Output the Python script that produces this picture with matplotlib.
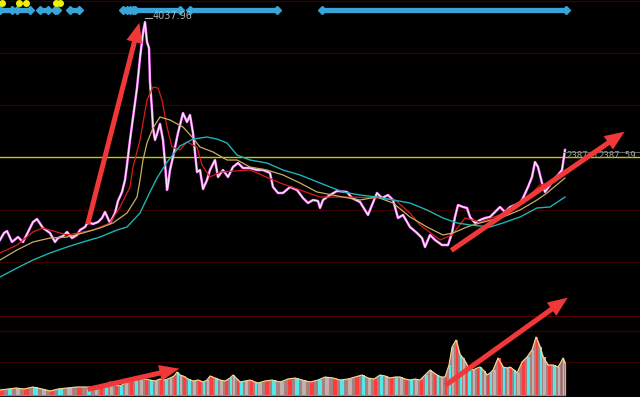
import matplotlib
matplotlib.use('Agg')
import matplotlib.pyplot as plt
import numpy as np

# weekly closes (bar index, index level)
close_x = [0, 4, 7, 12, 18, 23, 28, 33, 37, 43, 50, 55, 58, 63, 67, 72, 77, 80, 85, 88,
           93, 98, 102, 105, 110, 115, 118, 122, 125, 127, 130, 133, 137, 140, 143, 145, 147, 149, 150, 152,
           153, 155, 157, 160, 163, 165, 167, 168, 170, 173, 178, 183, 187, 190, 193, 197, 200, 203, 207, 210,
           215, 218, 223, 228, 233, 238, 243, 250, 257, 263, 270, 273, 278, 283, 290, 297, 303, 308, 313, 318,
           320, 323, 330, 337, 347, 352, 360, 368, 372, 377, 382, 388, 393, 398, 403, 410, 417, 422, 425, 430,
           435, 442, 448, 452, 455, 458, 463, 467, 470, 475, 480, 485, 490, 495, 500, 505, 510, 515, 520, 523,
           528, 532, 535, 538, 542, 545, 550, 555, 558, 562, 565]
close = [1402, 1485, 1508, 1378, 1437, 1378, 1497, 1615, 1651, 1544, 1485, 1378, 1425, 1449, 1497, 1425, 1461, 1520, 1556, 1615,
         1592, 1615, 1663, 1734, 1604, 1722, 1865, 1972, 2114, 2293, 2590, 2851, 3207, 3564, 3861, 3990, 3754, 3683, 3279, 2946,
         2732, 2590, 2661, 2780, 2590, 2316, 1996, 2055, 2233, 2388, 2673, 2910, 2803, 2887, 2673, 2209, 2233, 2007, 2114, 2233,
         2352, 2150, 2233, 2150, 2269, 2316, 2257, 2257, 2233, 2233, 2198, 2031, 1960, 1960, 2031, 1996, 1900, 1841, 1877, 1865,
         1782, 1877, 1936, 1984, 1972, 1900, 1853, 1699, 1817, 1960, 1900, 1936, 1877, 1663, 1699, 1556, 1485, 1425, 1318, 1461,
         1402, 1342, 1342, 1485, 1675, 1817, 1794, 1782, 1675, 1604, 1639, 1663, 1675, 1734, 1794, 1734, 1794, 1817, 1841, 1900,
         2031, 2150, 2328, 2269, 2079, 1972, 2055, 2138, 2174, 2233, 2471]

ma_red_x = [0, 17, 33, 43, 67, 93, 110, 120, 130, 133, 140, 147, 153, 158, 162, 167, 172, 180, 187, 197,
            202, 210, 220, 250, 280, 300, 320, 350, 380, 395, 410, 420, 440, 452, 465, 480, 500, 520, 540, 555, 565]
ma_red = [1247, 1342, 1497, 1544, 1461, 1520, 1604, 1794, 2031, 2269, 2590, 3065, 3219, 3207, 3065, 2744, 2506, 2471, 2566, 2506,
          2293, 2150, 2209, 2233, 2079, 1996, 1912, 1912, 1900, 1877, 1722, 1580, 1402, 1461, 1663, 1615, 1699, 1817, 2055, 2091, 2233]

ma_yel_x = [0, 17, 33, 50, 67, 83, 100, 113, 127, 137, 140, 143, 147, 153, 160, 170, 183, 193, 200, 213,
            227, 237, 250, 267, 283, 300, 317, 343, 360, 377, 393, 410, 427, 443, 453, 467, 480, 503, 520, 537, 547, 565]
ma_yel = [1164, 1283, 1378, 1425, 1437, 1485, 1544, 1604, 1722, 1912, 2114, 2352, 2554, 2732, 2863, 2827, 2744, 2613, 2506, 2447,
          2352, 2352, 2269, 2233, 2174, 2079, 1972, 1912, 1877, 1912, 1841, 1675, 1556, 1461, 1485, 1556, 1604, 1675, 1758, 1877, 1960, 2138]

ma_cyan_x = [0, 17, 33, 50, 67, 83, 100, 117, 127, 140, 150, 157, 167, 180, 193, 207, 217, 227, 237, 250,
             267, 283, 300, 320, 343, 360, 377, 393, 410, 427, 443, 457, 470, 490, 503, 520, 537, 550, 565]
ma_cyan = [962, 1069, 1164, 1247, 1318, 1378, 1437, 1520, 1556, 1722, 1972, 2138, 2328, 2518, 2601, 2625, 2601, 2554, 2411, 2352,
           2316, 2233, 2174, 2079, 1972, 1936, 1912, 1877, 1841, 1758, 1663, 1604, 1580, 1556, 1604, 1675, 1782, 1794, 1912]

vol_x = [0, 8, 16, 24, 33, 42, 50, 58, 67, 77, 87, 95, 100, 105, 110, 115, 120, 125, 130, 135,
         140, 145, 150, 155, 160, 165, 170, 174, 177, 180, 183, 188, 193, 198, 203, 207, 210, 215, 220, 225,
         230, 233, 237, 240, 245, 250, 255, 258, 265, 272, 280, 288, 295, 302, 310, 318, 325, 333, 340, 348,
         355, 362, 368, 374, 380, 385, 390, 395, 400, 405, 410, 415, 420, 425, 430, 434, 437, 441, 445, 449,
         452, 456, 460, 463, 466, 468, 473, 477, 480, 484, 487, 490, 493, 498, 503, 507, 510, 514, 517, 522,
         527, 532, 536, 540, 543, 548, 553, 558, 561, 563, 565]
vol = [5, 6, 7, 6, 8, 6, 4, 6, 7, 8, 8, 8, 9, 10, 13, 10, 9, 12, 15, 14,
       17, 16, 15, 14, 16, 15, 17, 19, 23, 20, 19, 16, 14, 15, 13, 15, 19, 17, 15, 14,
       17, 20, 16, 13, 14, 15, 13, 12, 14, 15, 13, 16, 17, 15, 13, 15, 18, 17, 15, 16,
       18, 20, 17, 16, 20, 19, 17, 18, 18, 16, 15, 16, 15, 20, 25, 22, 20, 18, 18, 30,
       48, 55, 40, 37, 32, 28, 25, 27, 28, 24, 20, 22, 25, 37, 28, 27, 28, 25, 22, 33,
       38, 45, 58, 48, 38, 30, 30, 28, 33, 37, 32]

peak_x = 145
peak_value = 4037.96
last_value = 2387.59
last_label = '2387.1'

blue_signals = [(0, 12), (17, 30), (40, 48), (55, 57), (70, 79), (123, 127), (130, 133),
                (135, 180), (190, 277), (322, 566)]
yellow_signals = [2, 19, 26, 56, 60]


fig = plt.figure(figsize=(6.4, 3.97), dpi=100, facecolor='black')
ax = fig.add_axes([0, 81/397, 1, 316/397])
axv = fig.add_axes([0, 0, 1, 81/397])
for a in (ax, axv):
    a.set_facecolor('black')
    a.set_xlim(0, 640)
    a.set_xticks([])
    a.set_yticks([])
    for s in a.spines.values():
        s.set_visible(False)

ax.set_ylim(498.7, 4252.8)
axv.set_ylim(-2, 79)

# grid
for lvl in [1140, 1758, 3005, 3623, 4240]:
    ax.axhline(lvl, color='#3a0000', lw=0.9, zorder=0)
ax.axhline(last_value, color='#c8c800', lw=1.0, zorder=1)
axv.axhline(79, color='#6a0000', lw=1.2, zorder=0)
for lvl in [64, 33]:
    axv.axhline(lvl, color='#3a0000', lw=0.9, zorder=0)

# price
ax.plot(close_x, close, color='#ff70ff', lw=1.8)
ax.plot(close_x, close, color='#f8f0f8', lw=0.8)
ax.plot(ma_red_x, ma_red, color='#d81c1c', lw=0.9)
ax.plot(ma_yel_x, ma_yel, color='#c8b060', lw=0.9)
ax.plot(ma_cyan_x, ma_cyan, color='#1cb4b4', lw=1.0)

ax.plot([peak_x, peak_x + 7], [peak_value, peak_value], color='#b0b0b0', lw=0.8)
ax.text(peak_x + 8, peak_value + 20, '%.2f' % peak_value, color='#b0b0b0', fontsize=7, va='center')
ax.plot([563, 640], [last_value + 60, last_value + 60], color='#606060', lw=0.8)
ax.text(566, last_value + 15, last_label, color='#a0a0a0', fontsize=6.5, va='center', family='DejaVu Sans Mono')
ax.text(598, last_value + 15, '%.2f' % last_value, color='#a0a0a0', fontsize=6.5, va='center', family='DejaVu Sans Mono')

# signals along the top
tr = ax.get_xaxis_transform()
for s, e in blue_signals:
    ax.plot([s, e], [0.968, 0.968], color='#38a4d8', lw=3.8, transform=tr, solid_capstyle='round')
    ax.plot([s, e], [0.968, 0.968], 'D', color='#38a4d8', ms=4, transform=tr)
ax.plot(yellow_signals, [0.99] * len(yellow_signals), 'o', color='#f0f000', ms=4, transform=tr, clip_on=False)

# volume
vol_x = np.array(vol_x)
vol = np.array(vol)
widths = np.diff(vol_x, append=vol_x[-1] + 2) * 0.5
cols = ['#ff3c3c', '#50e8e8', '#c0b0b0']
colors = [cols[i % 3] for i in range(len(vol))]
axv.fill_between(vol_x, vol, color='#a88080', zorder=1)
axv.bar(vol_x, vol, width=widths, color=colors, align='edge', zorder=2)
axv.plot(vol_x, vol, color='#f0e090', lw=0.8, zorder=3)

# arrows
arrow = dict(arrowstyle='simple,head_length=1.1,head_width=0.9,tail_width=0.28',
             mutation_scale=13, color='#f03838', lw=0)
ax.annotate('', xy=(140, 4015), xytext=(87, 1556), arrowprops=arrow)
ax.annotate('', xy=(627, 2708), xytext=(449, 1259), arrowprops=arrow)
axv.annotate('', xy=(182, 27), xytext=(85, 5), arrowprops=arrow, annotation_clip=False)
axv.annotate('', xy=(570, 99), xytext=(443, 8), arrowprops=arrow, annotation_clip=False)

plt.savefig('out.png', dpi=100, facecolor='black')
